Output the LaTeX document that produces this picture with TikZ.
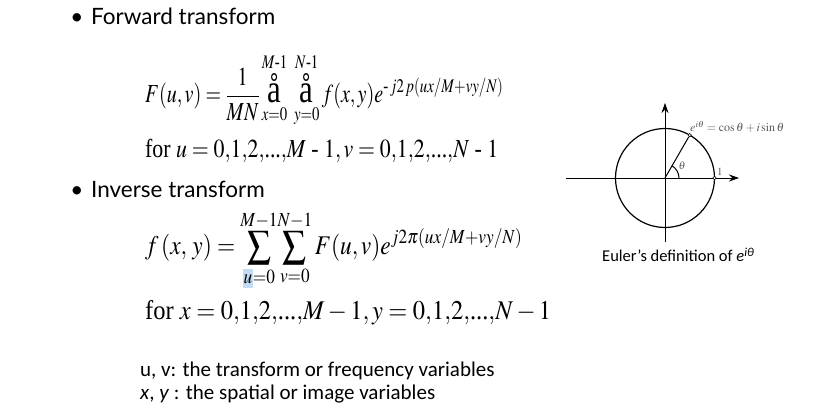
\documentclass[tikz,border=0pt]{standalone}
\usepackage{amsmath}
\usepackage{mathptmx}
\usepackage{graphicx}
\usepackage[no-math]{fontspec}
\setmainfont{Liberation Serif}
\newfontfamily\headfont{Lato}
\newfontfamily\notefont{Carlito}
\usepackage{tikz}
\usetikzlibrary{positioning, arrows.meta}

\definecolor{selblue}{RGB}{196,220,243}
\definecolor{eulergray}{RGB}{90,90,90}

% fit a formula to a given width, keeping its height
\newcommand{\fitw}[2]{\resizebox{#1}{\height}{#2}}
\newcommand{\bigA}{\mathop{\text{\fontsize{40}{42}\selectfont å}}}
\newcommand{\selu}{\text{\setlength{\fboxsep}{0.6pt}\colorbox{selblue}{\vphantom{Mg}$u$}}}

\tikzset{
  head/.style={anchor=base west, inner sep=0pt, font=\headfont\fontsize{22.5}{26}\selectfont},
  bul/.style={anchor=base, inner sep=0pt, font=\headfont\fontsize{22.5}{26}\selectfont},
  eqn/.style={anchor=base west, inner sep=0pt, font=\fontsize{27}{32}\selectfont},
  note/.style={anchor=base west, inner sep=0pt, font=\notefont\fontsize{21}{24}\selectfont},
  pt/.style={circle, draw, fill=white, inner sep=1.2pt, line width=0.6pt},
  axis/.style={line width=0.8pt, -{Stealth[length=10pt,width=7pt]}}
}

\begin{document}
\begin{tikzpicture}[x=1pt, y=1pt]
			\useasboundingbox (0,0) rectangle (828,410);
			% headings
			\node[head] (fwd) at (91,385) {Forward transform};
			\node[bul] (fwdbul) at (77,385) {\textbullet};
			\node[head] (inv) at (91,212) {Inverse transform};
			\node[bul] (invbul) at (77,212) {\textbullet};
			% forward transform
			\node[eqn, font=\fontsize{26}{30}\selectfont] (fwdeq) at (145,307) {\fitw{358pt}{$\displaystyle F(u,v)=\frac{1}{MN}\bigA\limits_{x=0}^{M\text{-}1}\;\bigA\limits_{y=0}^{N\text{-}1} f(x,y)e^{\text{-}\,j2\,p(ux/M+vy/N)}$}};
			\node[eqn, font=\fontsize{26}{30}\selectfont] (fwdrange) at (145,252) {\fitw{353pt}{for $u=0{,}1{,}2{,}\text{...}{,}M\text{ - }1{,}\,v=0{,}1{,}2{,}\text{...}{,}N\text{ - }1$}};
			% inverse transform
			\node[eqn] (inveq) at (145,155) {\fitw{377pt}{$\displaystyle f\,(x,\,y)=\sum_{\selu=0}^{M-1}\!\sum_{v=0}^{N-1}F(u,v)e^{j2\pi(ux/M+vy/N)}$}};
			\node[eqn] (invrange) at (145,90) {\fitw{406pt}{for $x=0{,}1{,}2{,}\text{...}{,}M-1{,}\,y=0{,}1{,}2{,}\text{...}{,}N-1$}};
			% notes
			\node[note] (uv) at (140,33) {u, v: the transform or frequency variables};
			\node[note] (xy) at (140,10) {\textit{x}, \textit{y} : the spatial or image variables};
			% Euler circle
			\coordinate (O) at (665,232);
			\coordinate (xl) at (566,232);
			\coordinate (xr) at (739,232);
			\coordinate (yb) at (665,168);
			\coordinate (yt) at (665,307);
			\draw[line width=1.2pt] (O) circle (49.5);
			\draw[axis] (xl) -- (xr);
			\draw[axis] (yb) -- (yt);
			\draw[line width=1pt] (O) ++(14,0) arc (0:60:14);
			\node[pt] (P) at ([shift={(60:49.5)}]O) {};
			\draw[line width=1pt] (O) -- (P);
			\node[pt] (Q) at ([shift={(0:49.5)}]O) {};
			\node[anchor=south west, inner sep=1pt, font=\fontsize{11}{13}\selectfont, text=eulergray] (one) at (Q.north east) {$1$};
			\node[font=\fontsize{11}{13}\selectfont, text=eulergray] (theta) at (682,244) {$\theta$};
			\node[anchor=base west, inner sep=1pt, font=\fontsize{12}{14}\selectfont, text=eulergray] (euler) at (689,278) {$e^{i\theta}=\cos\theta+i\sin\theta$};
			\node[anchor=base west, inner sep=0pt, font=\notefont\fontsize{16.5}{19}\selectfont] (cap) at (602,148) {Euler’s definition of \textit{e}\textsuperscript{\textit{iθ}}};
			\end{tikzpicture}
\end{document}
